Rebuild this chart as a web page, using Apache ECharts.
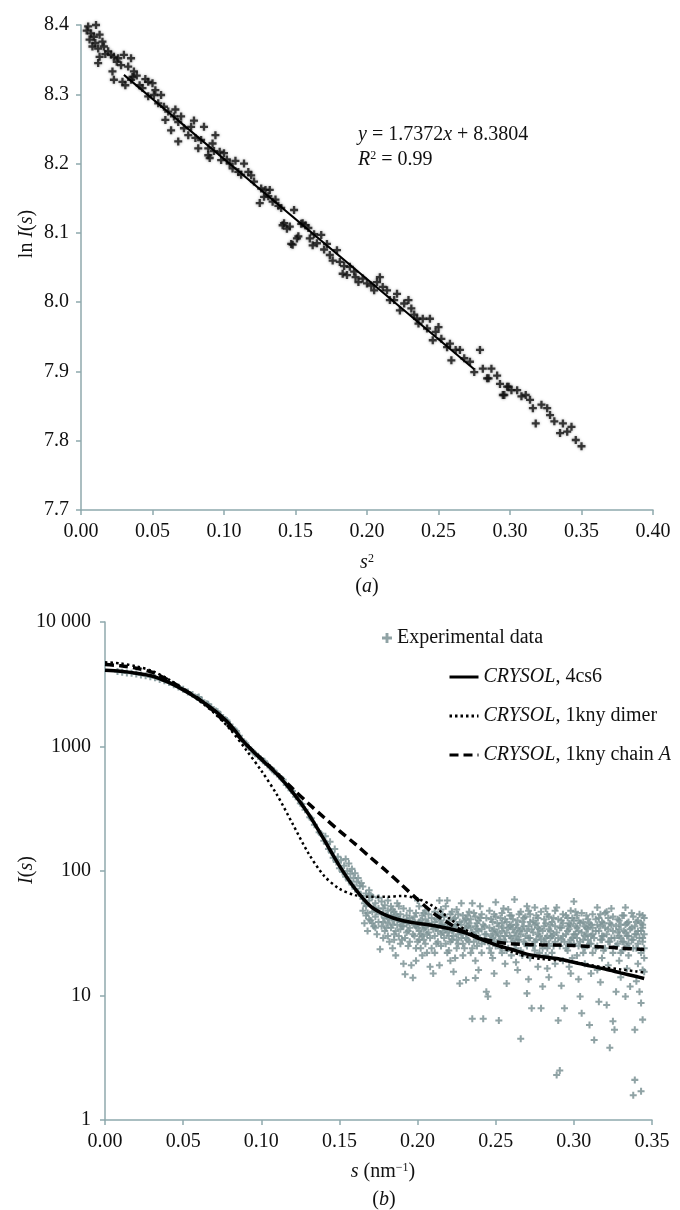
<!DOCTYPE html>
<html><head><meta charset="utf-8">
<script src="https://cdn.jsdelivr.net/npm/echarts@6/dist/echarts.min.js"></script>
<style>html,body{margin:0;padding:0;background:#fff}#c{width:680px;height:1210px}</style>
</head><body><div id="c"></div>
<script>
// ---------- Panel (a): ln I(s) vs s^2 ----------
const lnPoints = [
[0.005,8.398],[0.0105,8.400],[0.007,8.388],[0.009,8.383],[0.006,8.379],[0.013,8.386],[0.015,8.376],[0.008,8.369],
[0.012,8.366],[0.016,8.369],[0.019,8.362],[0.013,8.354],[0.012,8.345],[0.021,8.357],[0.023,8.354],[0.026,8.352],
[0.030,8.357],[0.035,8.352],[0.028,8.342],[0.033,8.340],[0.022,8.333],[0.023,8.321],[0.029,8.318],[0.031,8.313],
[0.036,8.325],[0.037,8.333],[0.035,8.321],[0.041,8.313],[0.047,8.318],[0.050,8.316],[0.043,8.309],[0.047,8.297],
[0.051,8.299],[0.056,8.299],[0.054,8.287],[0.058,8.282],[0.061,8.275],[0.065,8.268],[0.070,8.268],[0.059,8.263],
[0.063,8.248],[0.068,8.260],[0.072,8.251],[0.068,8.232],[0.075,8.241],[0.077,8.253],[0.080,8.237],[0.086,8.253],
[0.084,8.234],[0.082,8.222],[0.089,8.222],[0.092,8.229],[0.094,8.241],[0.089,8.212],[0.090,8.208],[0.097,8.217],
[0.100,8.215],[0.098,8.205],[0.104,8.200],[0.106,8.193],[0.110,8.188],[0.112,8.184],[0.114,8.200],[0.117,8.188],
[0.121,8.174],[0.126,8.164],[0.129,8.162],[0.132,8.162],[0.125,8.143],[0.128,8.152],[0.134,8.145],[0.136,8.148],
[0.140,8.136],[0.149,8.133],[0.142,8.114],[0.146,8.109],[0.152,8.095],[0.148,8.083],[0.155,8.114],[0.159,8.107],
[0.141,8.111],[0.144,8.106],[0.147,8.084],[0.151,8.092],[0.154,8.113],[0.157,8.111],[0.160,8.092],[0.162,8.082],
[0.165,8.085],[0.168,8.097],[0.172,8.084],[0.174,8.068],[0.176,8.060],[0.179,8.075],[0.181,8.058],[0.183,8.041],
[0.186,8.039],[0.188,8.051],[0.191,8.044],[0.194,8.029],[0.197,8.034],[0.200,8.027],[0.203,8.024],[0.207,8.029],
[0.209,8.036],[0.211,8.022],[0.214,8.017],[0.216,8.003],[0.219,8.003],[0.223,7.988],[0.226,7.998],[0.229,8.003],
[0.231,7.991],[0.235,7.976],[0.236,7.969],[0.239,7.976],[0.244,7.976],[0.242,7.962],[0.246,7.945],[0.250,7.964],
[0.252,7.947],[0.256,7.935],[0.259,7.916],[0.262,7.931],[0.265,7.931],[0.268,7.919],[0.272,7.914],[0.275,7.899],
[0.279,7.931],[0.281,7.904],[0.285,7.890],[0.287,7.904],[0.291,7.894],[0.293,7.882],[0.295,7.866],[0.299,7.878],
[0.284,7.890],[0.298,7.878],[0.301,7.873],[0.305,7.873],[0.308,7.864],[0.296,7.866],[0.311,7.866],[0.314,7.859],
[0.316,7.847],[0.318,7.825],[0.322,7.852],[0.326,7.847],[0.328,7.837],[0.331,7.828],[0.335,7.811],[0.337,7.825],
[0.340,7.813],[0.343,7.820],[0.346,7.801],[0.350,7.792],
[0.004,8.392],[0.010,8.374],[0.017,8.358],[0.025,8.347],[0.039,8.327],[0.045,8.322],[0.052,8.306],[0.066,8.278],
[0.079,8.262],[0.093,8.218],[0.102,8.206],[0.108,8.204],[0.119,8.183],[0.131,8.153],[0.138,8.139],[0.163,8.098],
[0.170,8.076],[0.184,8.052],[0.192,8.036],[0.205,8.017],[0.221,8.012],[0.233,7.982],[0.248,7.957],[0.258,7.940]
];
const trendLine = [[0.03,8.328],[0.275,7.903]];
const topXTicks = {min:0, max:0.4, step:0.05};
const topYTicks = {min:7.7, max:8.4, step:0.1};

// ---------- Panel (b): I(s) vs s ----------
const sGrid = [0,0.01,0.02,0.03,0.04,0.05,0.06,0.07,0.08,0.09,0.10,0.11,0.12,0.13,0.14,0.15,0.16,0.17,0.18,0.19,0.20,0.21,0.22,0.23,0.24,0.25,0.26,0.27,0.28,0.29,0.30,0.31,0.32,0.33,0.34,0.345];
const crysol4cs6 = [4100,4020,3880,3680,3300,2850,2400,1950,1500,1050,790,600,430,290,180,110,72,52,44,40,38,36.5,34.5,32,28.5,25.5,23.5,21.5,20.5,19.7,18.5,17.3,16.3,15.2,14.2,13.7];
const crysolDimer = [4750,4650,4400,4050,3500,2900,2350,1850,1380,950,640,410,240,140,92,72,64,62,62,63,60,52,42,34,29,25.5,22.5,20.5,19.6,19.2,18.6,17.6,16.8,16.2,15.6,15.3];
const crysolChainA = [4550,4450,4250,3950,3450,2900,2400,1900,1420,1050,800,610,460,350,270,210,165,128,100,77,59,46,38,32.5,29,27,26,25.7,25.5,25.4,25.2,24.8,24.5,24,23.6,23.4];

// experimental data: rows of [s, [I values at that s]]
const expRows = [
[0.008,[4000]],[0.011,[3950]],[0.014,[3900]],[0.017,[3870]],[0.020,[3820]],[0.023,[3760]],[0.026,[3700]],[0.029,[3640]],
[0.032,[3560]],[0.035,[3460]],[0.038,[3380]],[0.041,[3260]],[0.044,[3130]],[0.047,[3010]],[0.050,[2880]],[0.053,[2740]],
[0.056,[2620]],[0.059,[2480]],[0.060,[2500]],[0.062,[2350]],[0.065,[2200]],[0.066,[2180]],[0.068,[2080]],[0.071,[1930]],
[0.072,[1900]],[0.074,[1790]],[0.077,[1650]],[0.078,[1620]],[0.080,[1500]],[0.083,[1360]],[0.084,[1330]],[0.086,[1220]],
[0.089,[1090]],[0.090,[1060]],[0.092,[980]],[0.095,[900]],[0.096,[880]],[0.098,[830]],[0.101,[770]],[0.102,[760]],
[0.104,[710]],[0.107,[650]],[0.108,[640]],[0.110,[600]],[0.113,[550]],[0.114,[540]],[0.116,[490]],[0.119,[445]],
[0.120,[440]],[0.122,[395]],[0.125,[350]],[0.126,[345]],[0.128,[310]],[0.131,[270]],[0.132,[265]],[0.134,[235]],
[0.137,[205]],[0.138,[200]],[0.140,[175]],
[0.141,[190]],[0.142,[165]],[0.143,[150]],[0.144,[172]],[0.145,[140]],[0.146,[128]],[0.147,[150]],[0.148,[118]],
[0.149,[130]],[0.150,[105]],[0.151,[122]],[0.152,[98]],[0.153,[110]],[0.154,[90,125]],[0.155,[100]],[0.156,[84,115]],
[0.157,[95]],[0.158,[78,104]],[0.159,[88]],[0.160,[72,96]],[0.161,[82]],[0.162,[68,88]],[0.163,[76]],[0.164,[63,80]],
[0.165,[60,48,75]],[0.167,[52,66,44]],[0.169,[58,41,70]],[0.171,[47,62,38]],[0.173,[55,43,35]],[0.175,[50,39,61]],
[0.176,[23.5]],[0.177,[45,57,36]],[0.179,[42,53,33]],[0.181,[48,38,58,30]],[0.183,[44,35,52]],[0.185,[40,47,31,28]],
[0.187,[37,55,43]],[0.189,[34,45,39,26]],[0.191,[18,41,50,36]],[0.192,[14.8,29]],[0.193,[38,44,32]],
[0.195,[35,48,27,42]],[0.196,[17.5]],[0.197,[13.9,40,31]],[0.199,[36,46,24]],[0.201,[33,39,52,28]],
[0.203,[37,44,30,21]],[0.205,[35,41,26,48]],[0.207,[32,38,45]],[0.208,[17,29]],[0.209,[36,42,24]],[0.210,[15,34]],
[0.211,[39,30,47,22]],[0.213,[33,44,27]],[0.214,[58,37]],[0.215,[31,40,25,49]],[0.217,[35,29,43]],
[0.219,[58,32,38,22]],[0.221,[36,27,45,19]],[0.223,[30,41,34]],[0.225,[28,37,49,24]],[0.227,[12.5,33,39]],
[0.229,[31,26,44,21]],[0.231,[13.3,35,29,41]],[0.233,[27,38,47]],[0.235,[6.5,55,32,24]],[0.237,[30,36,19,43]],
[0.239,[28,40,33,16]],[0.241,[34,26,45,22]],[0.242,[6.5,37]],[0.244,[10.7,31,42]],[0.245,[9.8,27]],
[0.246,[35,48,24]],[0.248,[29,39,20,33]],[0.250,[56,31,25,43]],[0.252,[6.3,28,36]],[0.254,[33,22,46,38]],
[0.256,[27,41,30,18]],[0.258,[35,24,49]],[0.260,[29,37,21,44]],[0.262,[59,32,26]],[0.264,[40,28,35,16]],
[0.266,[4.5,31,47,23]],[0.268,[36,27,42]],[0.270,[52,10.4,33,25]],[0.272,[29,39,20,45]],[0.273,[7.9,34]],
[0.275,[51,27,37,23]],[0.277,[31,42,17,35]],[0.279,[7.9,28,47]],[0.280,[11.8,33,24]],[0.282,[50,38,29,21]],
[0.284,[34,26,43,14]],[0.286,[30,39,22]],[0.288,[36,27,48,18]],[0.289,[51,2.3,32]],[0.290,[6.3,29,41]],
[0.291,[2.5,25,35]],[0.293,[38,19,30,45]],[0.294,[7.9,27]],[0.296,[33,42,23,36]],[0.298,[28,37,15,48]],
[0.300,[57,31,26,40]],[0.302,[35,21,29,44]],[0.304,[9.8,38,27]],[0.305,[7.2,32,46]],[0.307,[24,36,30,18]],
[0.309,[41,28,34]],[0.310,[5.8,26,38]],[0.312,[31,22,45,35]],[0.313,[4.4,29]],[0.315,[51,37,25,16]],
[0.316,[8.9,33,42]],[0.318,[28,39,20,30]],[0.320,[35,24,46]],[0.321,[8.4,47,31]],[0.323,[3.8,27,38]],
[0.325,[6.2,33,22,43]],[0.326,[5.3,29]],[0.327,[10.7,36,25]],[0.329,[40,30,19,34]],[0.331,[27,44,23]],
[0.333,[51,9.8,32,37]],[0.335,[26,39,21,30]],[0.336,[11.8,34]],[0.338,[43,28,1.58,24]],[0.339,[2.1,5.3,36,31]],
[0.341,[26,40,18,33]],[0.342,[10.7,29,45]],[0.343,[33,8.7,1.7,22,38]],[0.344,[6.4,27,35,16]],[0.345,[24,31,42,20]],
[0.166,[38,55]],[0.168,[46,33]],[0.170,[40,64]],[0.172,[36,51]],[0.174,[31,47]],[0.178,[39,29,50]],[0.180,[35,44]],
[0.182,[41,27]],[0.184,[37,49,24]],[0.186,[33,45]],[0.188,[30,41,52]],[0.190,[36,28]],[0.194,[33,39,25]],
[0.198,[30,43,37]],[0.200,[27,35,58]],[0.202,[40,31,24]],[0.204,[34,46,28]],[0.206,[38,22,31]],[0.212,[35,26,41]],
[0.216,[32,45,37]],[0.218,[26,34,52]],[0.220,[40,30,23]],[0.222,[33,47,28]],[0.224,[36,20,42]],[0.226,[31,45,26]],
[0.228,[37,29,55]],[0.230,[33,24,40]],[0.232,[28,36,44]],[0.234,[35,22,41]],[0.236,[31,46,27]],[0.238,[38,25,34]],
[0.240,[29,42,52]],[0.243,[36,27,31]],[0.247,[41,30,22]],[0.249,[34,45,27]],[0.251,[38,26,32]],[0.253,[30,42,24]],
[0.255,[35,50,28]],[0.257,[32,23,39]],[0.259,[44,30,36]],[0.261,[27,34,41]],[0.263,[37,24,30]],[0.265,[33,45,28]],
[0.267,[39,21,34]],[0.269,[30,43,26]],[0.271,[36,29,48]],[0.274,[32,25,40]],[0.276,[38,28,44]],[0.278,[34,22,30]],
[0.281,[41,27,36]],[0.283,[30,45,24]],[0.285,[37,29,33]],[0.287,[42,25,31]],[0.292,[35,28,40]],[0.295,[31,44,24]],
[0.297,[38,26,34]],[0.299,[29,42,20]],[0.301,[36,31,47]],[0.303,[33,25,40]],[0.306,[39,28,22]],[0.308,[31,44,35]],
[0.311,[37,26,30]],[0.314,[33,41,24]],[0.317,[36,28,45]],[0.319,[30,38,23]],[0.322,[34,42,27]],[0.324,[29,37,50]],
[0.328,[32,26,41]],[0.330,[37,29,22]],[0.332,[33,44,27]],[0.334,[30,38,25]],[0.337,[35,28,46]],[0.340,[31,39,24]],
[0.344,[29,37,44]],
[0.186,[21]],[0.199,[19]],[0.214,[17.5]],[0.223,[15.5]],[0.237,[13.8]],[0.249,[15]],[0.257,[12.5]],[0.263,[18.5]],
[0.271,[13.5]],[0.283,[16.5]],[0.292,[12]],[0.297,[17]],[0.303,[13.5]],[0.311,[15]],[0.317,[12.8]],[0.322,[17.5]],
[0.330,[14]],[0.334,[16.5]],[0.340,[13]],[0.345,[15.5]]
];
const botXTicks = {min:0, max:0.35, step:0.05};
const botYRange = {min:1, max:10000};

// ---------- build ----------
const FONT = '"Liberation Serif","Times New Roman",serif';
const AXIS = '#8fa9ad';
const PLUS = 'path://M3.2,0H5.8V3.2H9V5.8H5.8V9H3.2V5.8H0V3.2H3.2Z';
const expData = [];
expRows.forEach(r => r[1].forEach(v => expData.push([r[0], v])));
const pair = arr => sGrid.map((s,i) => [s, arr[i]]);

const rich = {
  n:{fontFamily:FONT,fontSize:20,color:'#111'},
  i:{fontFamily:FONT,fontSize:20,fontStyle:'italic',color:'#111'},
  sup:{fontFamily:FONT,fontSize:12,color:'#111',verticalAlign:'top'}
};
function txt(x,y,text,rot){
  return {type:'text',x:x,y:y,rotation:rot||0,
    style:{text:text,rich:rich,fill:'#111',font:'20px '+FONT,
      align:'center',verticalAlign:'middle',textAlign:'center',textVerticalAlign:'middle'}};
}
function txtL(x,y,text){
  return {type:'text',x:x,y:y,
    style:{text:text,rich:rich,fill:'#111',font:'20px '+FONT,
      align:'left',verticalAlign:'middle',textAlign:'left',textVerticalAlign:'middle'}};
}

const axisCommon = {
  axisLine:{show:true,lineStyle:{color:AXIS,width:1.5}},
  axisTick:{show:true,inside:false,length:5,lineStyle:{color:AXIS,width:1.5}},
  splitLine:{show:false},
  axisLabel:{fontFamily:FONT,fontSize:20,color:'#111',margin:12}
};

const legendNames = {
  'CRYSOL, 4cs6':'{i|CRYSOL}, 4cs6',
  'CRYSOL, 1kny dimer':'{i|CRYSOL}, 1kny dimer',
  'CRYSOL, 1kny chain A':'{i|CRYSOL}, 1kny chain {i|A}'
};

const option = {
  animation:false,
  backgroundColor:'#fff',
  grid:[
    {left:81,right:27,top:25,bottom:700,containLabel:false},
    {left:105,right:28,top:622,bottom:90,containLabel:false}
  ],
  xAxis:[
    Object.assign({type:'value',gridIndex:0,min:topXTicks.min,max:topXTicks.max,interval:topXTicks.step},axisCommon,
      {axisLabel:Object.assign({},axisCommon.axisLabel,{formatter:v=>v.toFixed(2)})}),
    Object.assign({type:'value',gridIndex:1,min:botXTicks.min,max:botXTicks.max,interval:botXTicks.step},axisCommon,
      {axisLabel:Object.assign({},axisCommon.axisLabel,{formatter:v=>v.toFixed(2)})})
  ],
  yAxis:[
    Object.assign({type:'value',gridIndex:0,min:topYTicks.min,max:topYTicks.max,interval:topYTicks.step},axisCommon,
      {axisLabel:Object.assign({},axisCommon.axisLabel,{formatter:v=>v.toFixed(1)})}),
    Object.assign({type:'log',logBase:10,gridIndex:1,min:botYRange.min,max:botYRange.max},axisCommon,
      {minorTick:{show:false},axisLabel:Object.assign({},axisCommon.axisLabel,{margin:14,formatter:v=>v>=10000?'10 000':String(Math.round(v))})})
  ],
  legend:[
    {data:[{name:'Experimental data',icon:PLUS}],left:377,top:623,orient:'vertical',
     itemWidth:10,itemHeight:10,itemGap:10,
     textStyle:{fontFamily:FONT,fontSize:20,color:'#111'}},
    {data:['CRYSOL, 4cs6','CRYSOL, 1kny dimer','CRYSOL, 1kny chain A'],left:443,top:662,orient:'vertical',
     itemWidth:29,itemHeight:14,itemGap:19,
     itemStyle:{color:'rgba(0,0,0,0)',borderColor:'rgba(0,0,0,0)',borderWidth:0,opacity:0},
     lineStyle:{width:3},
     formatter:n=>legendNames[n]||n,
     textStyle:{fontFamily:FONT,fontSize:20,color:'#111',rich:rich}}
  ],
  series:[
    {type:'scatter',xAxisIndex:0,yAxisIndex:0,data:lnPoints,symbol:PLUS,symbolSize:8,
     itemStyle:{color:'#111',shadowBlur:3,shadowColor:'rgba(0,0,0,0.45)'},z:2},
    {type:'line',xAxisIndex:0,yAxisIndex:0,data:trendLine,symbol:'none',
     lineStyle:{color:'#000',width:2},z:3},
    {name:'Experimental data',type:'scatter',xAxisIndex:1,yAxisIndex:1,data:expData,symbol:PLUS,symbolSize:7,
     itemStyle:{color:'#7d9395',opacity:0.85},z:2},
    {name:'CRYSOL, 4cs6',type:'line',xAxisIndex:1,yAxisIndex:1,data:pair(crysol4cs6),smooth:0.3,symbol:'none',
     lineStyle:{color:'#000',width:3.5},itemStyle:{color:'#000'},z:5},
    {name:'CRYSOL, 1kny dimer',type:'line',xAxisIndex:1,yAxisIndex:1,data:pair(crysolDimer),smooth:0.3,symbol:'none',
     lineStyle:{color:'#000',width:2.5,type:[2.5,3]},itemStyle:{color:'#000'},z:4},
    {name:'CRYSOL, 1kny chain A',type:'line',xAxisIndex:1,yAxisIndex:1,data:pair(crysolChainA),smooth:0.3,symbol:'none',
     lineStyle:{color:'#000',width:3.5,type:[9,5]},itemStyle:{color:'#000'},z:4}
  ],
  graphic:[
    txt(27,234,'{n|ln }{i|I}{n|(}{i|s}{n|)}',Math.PI/2),
    txt(367,563,'{i|s}{sup|2}'),
    txt(367,587,'{n|(}{i|a}{n|)}'),
    txtL(358,135,'{i|y}{n| = 1.7372}{i|x}{n| + 8.3804}'),
    txtL(358,160,'{i|R}{sup|2}{n| = 0.99}'),
    txt(27,870,'{i|I}{n|(}{i|s}{n|)}',Math.PI/2),
    txt(383,1172,'{i|s}{n| (nm}{sup|−1}{n|)}'),
    txt(384,1200,'{n|(}{i|b}{n|)}')
  ]
};
const chart = echarts.init(document.getElementById('c'),null,{renderer:'canvas'});
chart.setOption(option);
</script>
</body></html>
